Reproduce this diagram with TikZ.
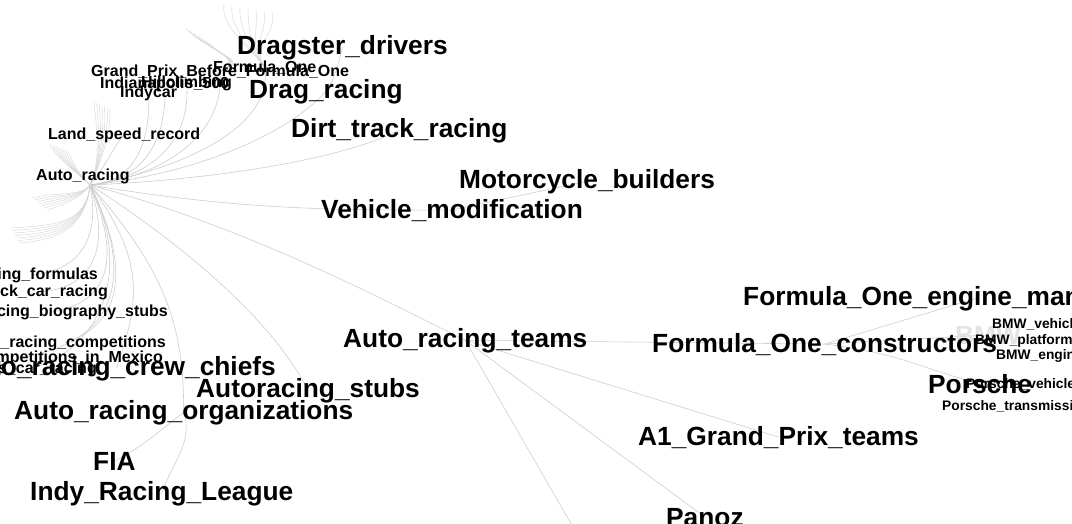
\documentclass[tikz,border=0pt]{standalone}
\usepackage{fontspec}
\setmainfont{Liberation Sans}
\usetikzlibrary{backgrounds}
\definecolor{edgegray}{RGB}{205,205,205}
\definecolor{leafgray}{RGB}{215,215,215}
\definecolor{ghost}{RGB}{228,228,228}
\begin{document}
\begin{tikzpicture}[x=1pt,y=-1pt,
  big/.style={font=\fontsize{26.3}{28}\selectfont\bfseries, inner sep=0pt, text=black},
  small/.style={font=\fontsize{16}{17}\selectfont\bfseries, inner sep=0pt, text=black},
  tiny/.style={font=\fontsize{13.8}{15}\selectfont\bfseries, inner sep=0pt, text=black},
  link/.style={draw=edgegray, line width=0.6pt},
  leaf/.style={draw=leafgray, line width=0.45pt},
]
\useasboundingbox (0,0) rectangle (1072,523);
\clip (0,0) rectangle (1072,523);

% ---- hub of the category tree
\coordinate (hub) at (90,185);
\node[small, anchor=base west] (autoracing) at (36,180) {Auto\_racing};

% ---- upper branch labels
\node[small, anchor=base west] (gpbf) at (91,76) {Grand\_Prix\_Before\_Formula\_One};
\node[small, anchor=base west] (f1) at (213,72) {Formula\_One};
\node[small, anchor=base west] (indy500) at (100,88) {Indianapolis\_500};
\node[small, anchor=base west] (hill) at (141,87) {Hillclimbing};
\node[small, anchor=base west] (indycar) at (120,97) {Indycar};
\node[small, anchor=base west] (lsr) at (48,139) {Land\_speed\_record};

\node[big, anchor=base west] (dragster) at (237,54) {Dragster\_drivers};
\node[big, anchor=base west] (dragracing) at (249,98) {Drag\_racing};
\node[big, anchor=base west] (dirt) at (291,137) {Dirt\_track\_racing};
\node[big, anchor=base west] (moto) at (459,188) {Motorcycle\_builders};
\node[big, anchor=base west] (vehmod) at (321,218) {Vehicle\_modification};

% ---- teams branch
\node[big, anchor=base west] (f1eng) at (743,305) {Formula\_One\_engine\_manufacturers};
\node[big, anchor=base west, text=ghost] (bmw) at (955,344) {BMW};
\node[big, anchor=base west] (f1con) at (652,352) {Formula\_One\_constructors};
\node[big, anchor=base west] (porsche) at (928,393) {Porsche};
\node[big, anchor=base west] (arteams) at (343,347) {Auto\_racing\_teams};
\node[big, anchor=base west] (a1) at (638,445) {A1\_Grand\_Prix\_teams};
\node[big, anchor=base west] (panoz) at (666,526) {Panoz};

\node[tiny, anchor=base west] (bmwveh) at (992,328) {BMW\_vehicles};
\node[tiny, anchor=base west] (bmwplat) at (975,344) {BMW\_platforms};
\node[tiny, anchor=base west] (bmweng) at (996,359) {BMW\_engines};
\node[tiny, anchor=base west] (porveh) at (966,388) {Porsche\_vehicles};
\node[tiny, anchor=base west] (portrans) at (942,410) {Porsche\_transmissions};

% ---- lower branch labels
\node[small, anchor=base east] (formulas) at (98,279) {Racing\_formulas};
\node[small, anchor=base east] (stockcar) at (108,296) {Stock\_car\_racing};
\node[small, anchor=base east] (biostubs) at (168,316) {Auto\_racing\_biography\_stubs};
\node[small, anchor=base east] (comps) at (166,347) {Auto\_racing\_competitions};
\node[small, anchor=base east] (mexico) at (163,362) {Auto\_racing\_competitions\_in\_Mexico};
\node[small, anchor=base east] (sportscar) at (97,373) {Sports\_car\_racing};

\node[big, anchor=base east] (crew) at (276,375) {Auto\_racing\_crew\_chiefs};
\node[big, anchor=base west] (stubs) at (196,397) {Autoracing\_stubs};
\node[big, anchor=base west] (org) at (14,419) {Auto\_racing\_organizations};
\node[big, anchor=base west] (fia) at (93,470) {FIA};
\node[big, anchor=base west] (irl) at (30,500) {Indy\_Racing\_League};

\coordinate (offdown) at (592,560);

% ---- connectors, behind the labels
\begin{scope}[on background layer]
  % upper curves from the hub
  \draw[link] (hub) .. controls +(45,-3) and +(2,50) .. (indycar.center);
  \draw[link] (hub) .. controls +(55,-5) and +(3,55) .. (indy500.center);
  \draw[link] (hub) .. controls +(65,-8) and +(5,55) .. (hill.center);
  \draw[link] (hub) .. controls +(80,-10) and +(5,60) .. (gpbf.center);
  \draw[link] (hub) .. controls +(90,-15) and +(10,60) .. (f1.center);
  \draw[link] (hub) .. controls +(20,-25) and +(-10,10) .. (lsr.center);
  \draw[link] (hub) .. controls +(100,-10) and +(-40,45) .. (dragracing.center);
  \draw[link] (dragracing.center) .. controls +(10,-15) and +(-5,20) .. (dragster.center);
  \draw[link] (hub) .. controls +(120,-5) and +(-60,30) .. (dirt.center);
  \draw[link] (hub) .. controls +(150,25) and +(-120,0) .. (vehmod.center);
  \draw[link] (vehmod.center) -- (moto.center);
  \draw[link] (hub) .. controls +(150,40) and +(-90,-45) .. (arteams.center);

  % lower curves from the hub
  \draw[link] (hub) .. controls +(10,50) and +(50,-5) .. (formulas.center);
  \draw[link] (hub) .. controls +(20,60) and +(55,-5) .. (stockcar.center);
  \draw[link] (hub) .. controls +(30,70) and +(60,-10) .. (biostubs.center);
  \draw[link] (hub) .. controls +(40,80) and +(60,-20) .. (comps.center);
  \draw[link] (hub) .. controls +(45,90) and +(100,-15) .. (mexico.center);
  \draw[link] (hub) .. controls +(50,100) and +(60,-10) .. (sportscar.center);
  \draw[link] (hub) .. controls +(60,80) and +(20,-60) .. (crew.center);
  \draw[link] (hub) .. controls +(80,90) and +(0,-80) .. (org.center);
  \draw[link] (hub) .. controls +(110,70) and +(-30,-60) .. (stubs.center);
  \draw[link] (org.center) .. controls +(-20,15) and +(30,-15) .. (fia.center);
  \draw[link] (org.center) .. controls +(10,30) and +(10,-30) .. (irl.center);

  % teams and constructors
  \draw[link] (arteams.center) -- (f1con.center);
  \draw[link] (arteams.center) -- (a1.center);
  \draw[link] (arteams.center) -- (panoz.center);
  \draw[link] (arteams.center) -- (offdown);
  \draw[link] (f1con.center) -- (f1eng.center);
  \draw[link] (f1con.center) .. controls +(80,10) and +(-60,-15) .. (porsche.center);
  \draw[link] (f1con.center) -- (bmw.center);

  % bundles of unlabelled leaves
  \foreach \i in {0,...,6} {
    \coordinate (fl\i) at ({94+2.6*\i},{102+1.2*\i});
    \draw[leaf] (hub) .. controls +(12,-25) and +(2,22) .. (fl\i);
    \coordinate (fu\i) at ({50+3*\i},{144+1.2*\i});
    \draw[leaf] (hub) .. controls +(-12,-12) and +(6,14) .. (fu\i);
    \coordinate (fa\i) at ({32+2.5*\i},{198+2*\i});
    \draw[leaf] (hub) .. controls +(-8,12) and +(20,-6) .. (fa\i);
    \coordinate (fb\i) at ({12+1.2*\i},{228+2.5*\i});
    \draw[leaf] (hub) .. controls +(-4,38) and +(45,-3) .. (fb\i);
    \coordinate (ft\i) at ({224+8*\i},{4+1.5*\i});
    \draw[leaf] (f1.center) .. controls +(-15,-20) and +({-4+1.5*\i},22) .. (ft\i);
    \coordinate (fs\i) at ({186+4*\i},{28+2.5*\i});
    \draw[leaf] (gpbf.center) .. controls +(30,-12) and +(10,16) .. (fs\i);
  }
\end{scope}
\end{tikzpicture}
\end{document}
